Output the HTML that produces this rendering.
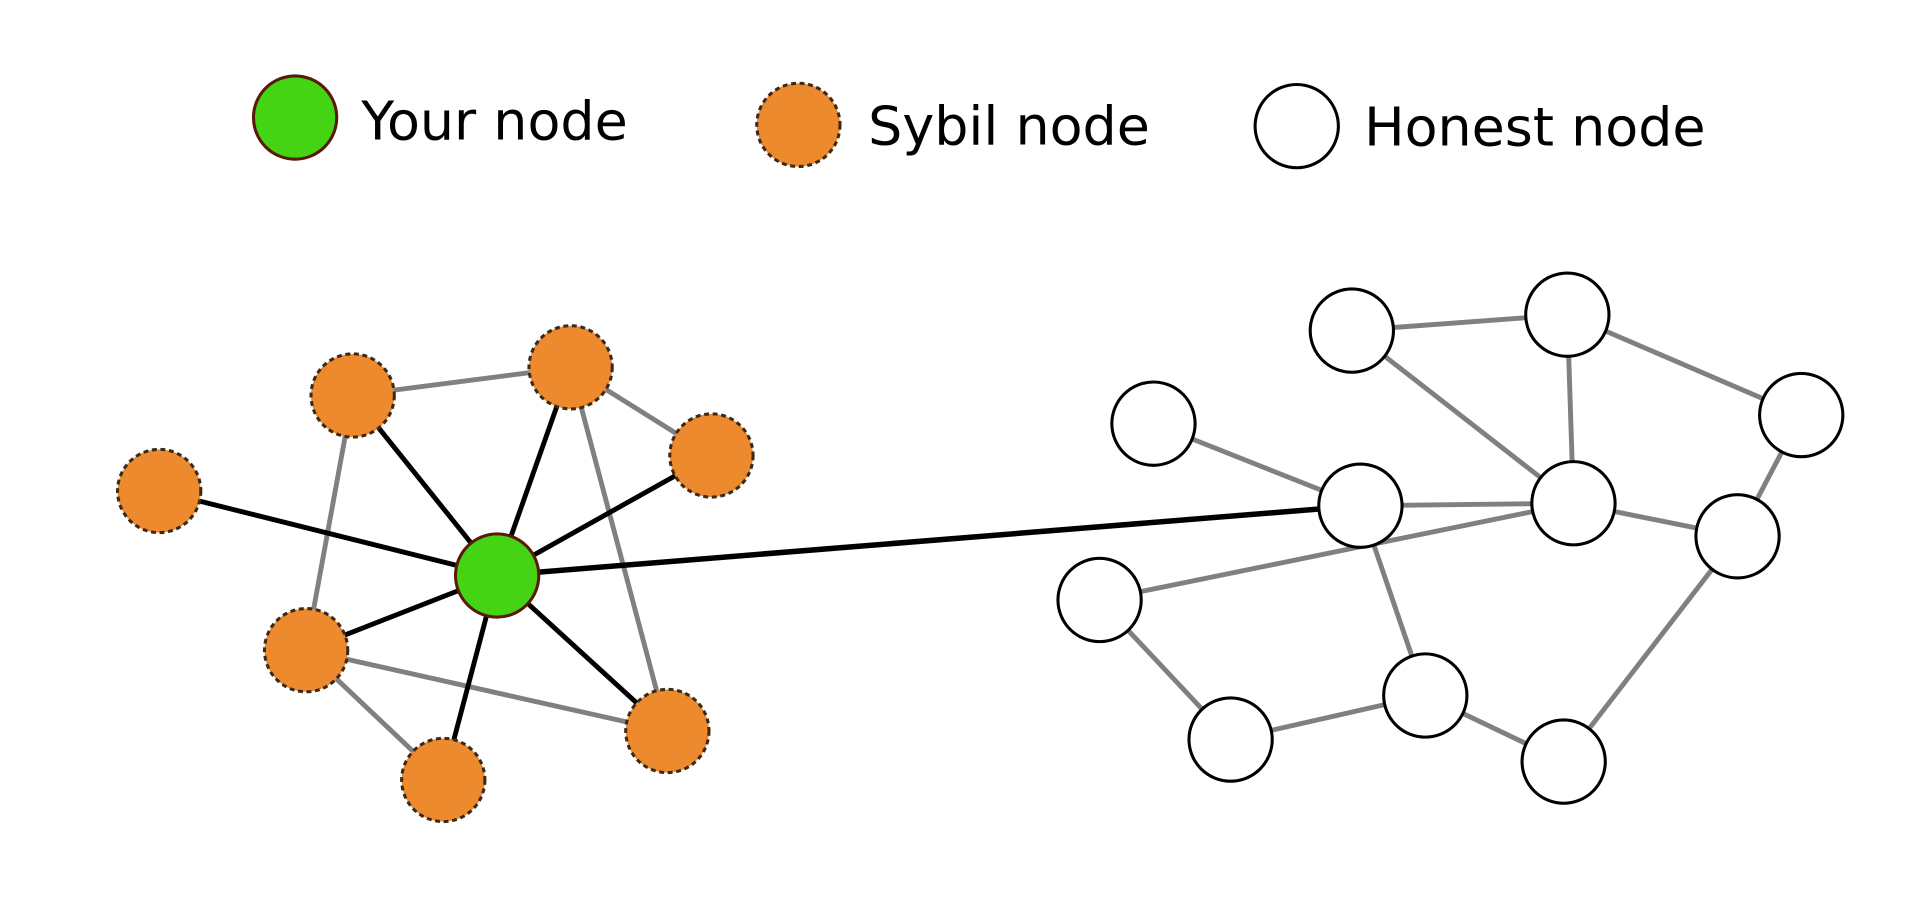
<!DOCTYPE html>
<html><head><meta charset="utf-8"><style>html,body{margin:0;padding:0;background:#fff;width:1920px;height:904px;overflow:hidden}</style></head>
<body>
<svg width="1920" height="904" viewBox="0 0 1568 738.3" preserveAspectRatio="none" xmlns="http://www.w3.org/2000/svg">
<rect width="1568" height="739" fill="#fff"/>
<g font-family="DejaVu Sans, Liberation Sans, sans-serif" font-size="44" fill="#000">
<text x="295" y="114">Your node</text>
<text x="709" y="118">Sybil node</text>
<text x="1114" y="119">Honest node</text>
</g>
<circle cx="241" cy="96" r="34" fill="#44d414" stroke="#5a1a0a" stroke-width="2.5"/>
<circle cx="652" cy="102" r="34" fill="#ee8a2e" stroke="#3a2a1a" stroke-width="2.5" stroke-dasharray="4 3"/>
<circle cx="1059" cy="103" r="34" fill="#fff" stroke="#000" stroke-width="2.5"/>
<g stroke="#808080" stroke-width="4">
<line x1="288" y1="323" x2="466" y2="300"/>
<line x1="466" y1="300" x2="581" y2="372"/>
<line x1="288" y1="323" x2="250" y2="531"/>
<line x1="466" y1="300" x2="545" y2="597"/>
<line x1="250" y1="531" x2="545" y2="597"/>
<line x1="250" y1="531" x2="362" y2="637"/>
<line x1="1104" y1="270" x2="1280" y2="257"/>
<line x1="1280" y1="257" x2="1285" y2="411"/>
<line x1="1280" y1="257" x2="1471" y2="339"/>
<line x1="1104" y1="270" x2="1285" y2="411"/>
<line x1="942" y1="346" x2="1111" y2="413"/>
<line x1="1111" y1="413" x2="1285" y2="411"/>
<line x1="1285" y1="411" x2="1419" y2="438"/>
<line x1="1471" y1="339" x2="1419" y2="438"/>
<line x1="898" y1="490" x2="1285" y2="411"/>
<line x1="1111" y1="413" x2="1164" y2="568"/>
<line x1="898" y1="490" x2="1005" y2="604"/>
<line x1="1005" y1="604" x2="1164" y2="568"/>
<line x1="1164" y1="568" x2="1277" y2="622"/>
<line x1="1277" y1="622" x2="1419" y2="438"/>
</g>
<g stroke="#000" stroke-width="4">
<line x1="406" y1="470" x2="288" y2="323"/>
<line x1="406" y1="470" x2="466" y2="300"/>
<line x1="406" y1="470" x2="581" y2="372"/>
<line x1="406" y1="470" x2="130" y2="401"/>
<line x1="406" y1="470" x2="250" y2="531"/>
<line x1="406" y1="470" x2="362" y2="637"/>
<line x1="406" y1="470" x2="545" y2="597"/>
<line x1="406" y1="470" x2="1111" y2="413" stroke-width="4.5"/>
</g>
<g fill="#ee8a2e" stroke="#3a2a1a" stroke-width="2.5" stroke-dasharray="4 3">
<circle cx="288" cy="323" r="34"/>
<circle cx="466" cy="300" r="34"/>
<circle cx="581" cy="372" r="34"/>
<circle cx="130" cy="401" r="34"/>
<circle cx="250" cy="531" r="34"/>
<circle cx="362" cy="637" r="34"/>
<circle cx="545" cy="597" r="34"/>
</g>
<circle cx="406" cy="470" r="34" fill="#44d414" stroke="#5a1a0a" stroke-width="2.5"/>
<g fill="#fff" stroke="#000" stroke-width="2.5">
<circle cx="1104" cy="270" r="34"/>
<circle cx="1280" cy="257" r="34"/>
<circle cx="942" cy="346" r="34"/>
<circle cx="1471" cy="339" r="34"/>
<circle cx="1111" cy="413" r="34"/>
<circle cx="1285" cy="411" r="34"/>
<circle cx="1419" cy="438" r="34"/>
<circle cx="898" cy="490" r="34"/>
<circle cx="1164" cy="568" r="34"/>
<circle cx="1005" cy="604" r="34"/>
<circle cx="1277" cy="622" r="34"/>
</g>
</svg>
</body></html>
